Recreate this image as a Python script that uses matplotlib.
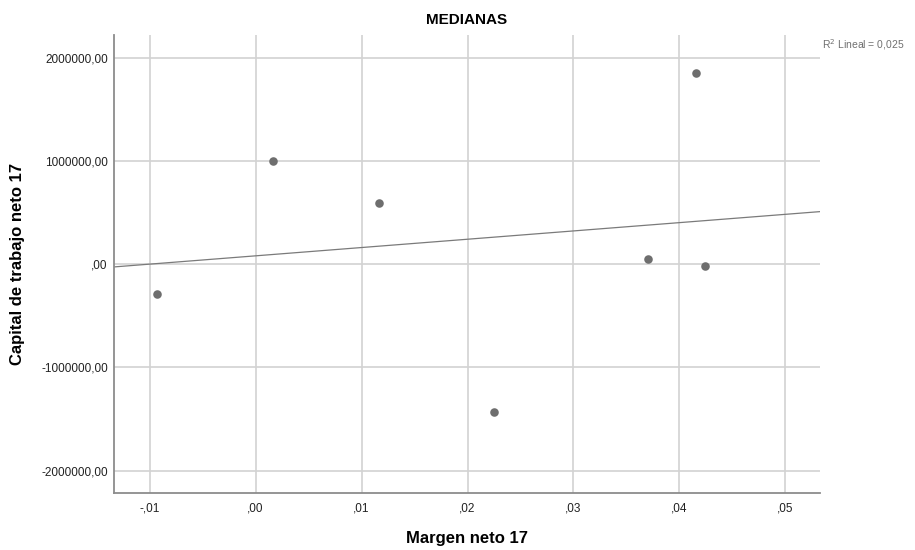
import numpy as np
import matplotlib
matplotlib.use("Agg")
import matplotlib.pyplot as plt
from matplotlib.ticker import FuncFormatter

# medianas
margen_neto = [-0.00928, 0.00166, 0.01166, 0.02248, 0.0370, 0.0416, 0.0424]
capital_trabajo = [-290000, 1000000, 590000, -1430000, 51000, 1849000, -16000]

x_ticks = [-0.01, 0.00, 0.01, 0.02, 0.03, 0.04, 0.05]
y_ticks = [-2000000, -1000000, 0, 1000000, 2000000]

plt.rcParams['font.family'] = ['Liberation Sans', 'DejaVu Sans']


def fmt_x(v, pos):
    s = f"{v:.2f}".replace(".", ",")
    s = s.replace("-0,", "-,").replace("0,", ",")
    if s == "-,00":
        s = ",00"
    return s


def fmt_y(v, pos):
    s = f"{v:.2f}".replace(".", ",")
    if s.startswith("0,"):
        s = s[1:]
    if s == "-0,00":
        s = ",00"
    return s


fig = plt.figure(figsize=(9.15, 5.5), dpi=100)
ax = fig.add_axes([114 / 915, 1 - 492.7 / 550, (820 - 114) / 915, (492.7 - 35) / 550])

ax.scatter(margen_neto, capital_trabajo, s=38, color='#6e6e6e', zorder=3, linewidths=0)

# linear fit
coef = np.polyfit(margen_neto, capital_trabajo, 1)
pred = np.polyval(coef, margen_neto)
ss_res = np.sum((np.array(capital_trabajo) - pred) ** 2)
ss_tot = np.sum((np.array(capital_trabajo) - np.mean(capital_trabajo)) ** 2)
r2 = 1 - ss_res / ss_tot

xlim = (-0.01337, 0.05327)
xs = np.array(xlim)
ax.plot(xs, np.polyval(coef, xs), color='#7a7a7a', lw=0.9, zorder=2)

ax.set_xlim(*xlim)
ax.set_ylim(-2213000, 2220000)
ax.set_xticks(x_ticks)
ax.set_yticks(y_ticks)
ax.xaxis.set_major_formatter(FuncFormatter(fmt_x))
ax.yaxis.set_major_formatter(FuncFormatter(fmt_y))
ax.grid(True, color='#d2d2d2', lw=1.2)
ax.set_axisbelow(True)
ax.tick_params(length=0, labelsize=8.5, colors='#222222')
ax.tick_params(axis='x', pad=7)
ax.tick_params(axis='y', pad=4.5)

for side in ['top', 'right']:
    ax.spines[side].set_visible(False)
for side in ['left', 'bottom']:
    ax.spines[side].set_color('#8c8c8c')
    ax.spines[side].set_linewidth(1.3)

ax.set_title('MEDIANAS', fontsize=11, fontweight='bold', pad=8)
ax.set_xlabel('Margen neto 17', fontsize=12, fontweight='bold', va='center')
ax.set_ylabel('Capital de trabajo neto 17', fontsize=12, fontweight='bold', va='center')
ax.xaxis.set_label_coords(0.5, (492.7 - 538) / 457.7)
ax.yaxis.set_label_coords((18 - 114) / 706, 0.5)

r2_txt = f"{r2:.3f}".replace(".", ",")
fig.text(822 / 915, 1 - 45 / 550, f"R$^2$ Lineal = {r2_txt}", fontsize=7.5,
         color='#707070', va='center', ha='left')

fig.savefig('out.png', dpi=100)
